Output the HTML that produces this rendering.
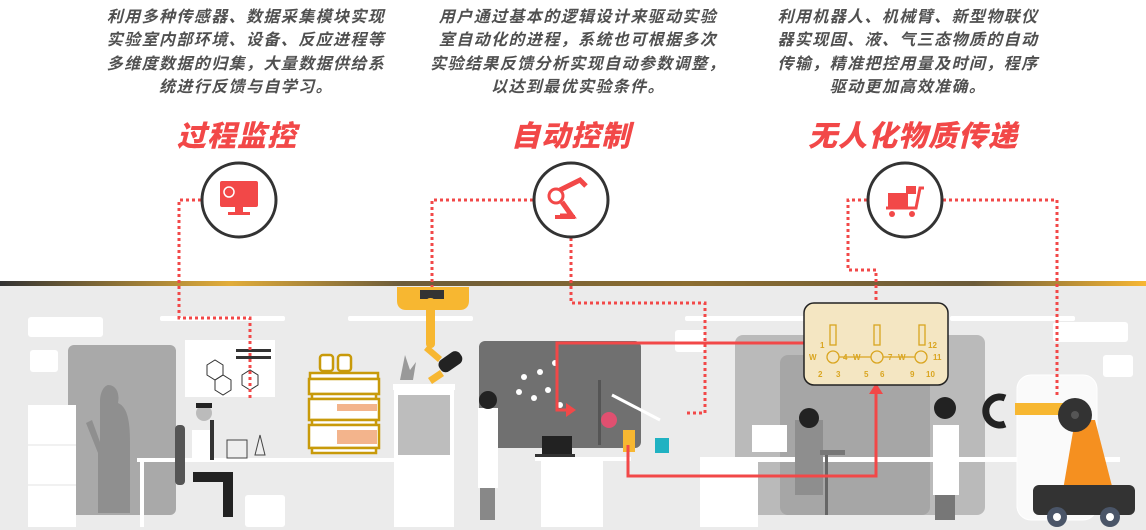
<!DOCTYPE html>
<html><head><meta charset="utf-8"><style>
html,body{margin:0;padding:0;background:#fff;}
body{width:1146px;height:530px;overflow:hidden;position:relative;font-family:"Liberation Sans","Noto Sans CJK SC",sans-serif;}
.t{position:absolute;text-align:center;color:#505050;font-weight:bold;font-style:italic;font-size:16px;line-height:23.3px;letter-spacing:1.4px;white-space:nowrap;}
.h{position:absolute;text-align:center;color:#f24848;font-weight:900;font-style:italic;font-size:29px;letter-spacing:1px;white-space:nowrap;}
svg{position:absolute;left:0;top:0;}
</style></head><body>
<svg width="1146" height="530" viewBox="0 0 1146 530">
<defs>
<linearGradient id="g" x1="0" x2="1">
<stop offset="0" stop-color="#333"/><stop offset="0.2" stop-color="#e2ad3a"/><stop offset="0.35" stop-color="#6b5b3a"/><stop offset="0.6" stop-color="#8c6d30"/><stop offset="0.85" stop-color="#6b5b3a"/><stop offset="1" stop-color="#f7b733"/>
</linearGradient>
</defs>
<rect x="0" y="285" width="1146" height="245" fill="#ebebeb"/>
<rect x="0" y="281" width="1146" height="5" fill="url(#g)"/>
<rect x="160" y="316" width="125" height="5" rx="2" fill="#fff"/>
<rect x="348" y="316" width="125" height="5" rx="2" fill="#fff"/>
<rect x="685" y="316" width="120" height="5" rx="2" fill="#fff"/>
<rect x="950" y="316" width="125" height="5" rx="2" fill="#fff"/>
<rect x="28" y="317" width="75" height="20" rx="3" fill="#fff"/>
<rect x="1053" y="322" width="75" height="20" rx="3" fill="#fff"/>
<rect x="30" y="350" width="28" height="22" rx="3" fill="#fff"/>
<rect x="675" y="330" width="30" height="22" rx="3" fill="#fff"/>
<rect x="1103" y="355" width="30" height="22" rx="3" fill="#fff"/>
<rect x="68" y="345" width="108" height="170" rx="6" fill="#a9a9a9"/>
<path d="M108 385c8 0 12 8 10 18 10 4 12 20 12 40v70h-32v-60l-12-30 6-3 8 22v-40c0-10 4-16 8-17z" fill="#8f8f8f"/>
<rect x="28" y="405" width="48" height="122" fill="#fff"/>
<line x1="28" y1="445" x2="76" y2="445" stroke="#e3e3e3"/><line x1="28" y1="485" x2="76" y2="485" stroke="#e3e3e3"/>
<rect x="185" y="340" width="90" height="57" fill="#fff"/>
<g stroke="#333" fill="none" stroke-width="1"><polygon points="207,365 215,360 223,365 223,375 215,380 207,375"/><polygon points="215,380 223,375 231,380 231,390 223,395 215,390"/><polygon points="242,375 250,370 258,375 258,385 250,390 242,385"/></g>
<rect x="236" y="349" width="35" height="3" fill="#333"/><rect x="236" y="356" width="35" height="3" fill="#333"/>
<rect x="137" y="458" width="300" height="4" fill="#fff"/>
<rect x="140" y="462" width="4" height="65" fill="#fff"/>
<rect x="245" y="495" width="40" height="32" rx="3" fill="#fff"/>
<rect x="175" y="425" width="10" height="60" rx="4" fill="#555"/>
<path d="M192 430h22v30h-22z" fill="#fff"/>
<circle cx="204" cy="413" r="8" fill="#bbb"/><path d="M196 408h16v-5h-16z" fill="#222"/>
<path d="M193 472h40v45h-10v-35h-30z" fill="#222"/>
<rect x="210" y="420" width="4" height="40" fill="#333"/>
<g fill="#eee" stroke="#444"><rect x="227" y="440" width="20" height="18"/><polygon points="265,455 255,455 260,435"/></g>
<g stroke="#c89a0a" stroke-width="2.5" fill="#fff">
<rect x="320" y="355" width="13" height="16" rx="3"/><rect x="338" y="355" width="13" height="16" rx="3"/>
<rect x="310" y="373" width="68" height="6"/><rect x="309" y="379" width="70" height="15"/>
<rect x="312" y="394" width="64" height="5"/><rect x="309" y="399" width="70" height="21"/>
<rect x="312" y="420" width="64" height="5"/><rect x="309" y="425" width="70" height="23"/>
<rect x="312" y="448" width="64" height="5"/></g>
<rect x="337" y="404" width="40" height="7" fill="#f3b48c"/>
<rect x="337" y="430" width="40" height="14" fill="#f3b48c"/>
<path d="M400 380l5-25 5 15 6-8-3 18z" fill="#999"/>
<rect x="393" y="384" width="62" height="6" fill="#fff"/>
<rect x="394" y="390" width="60" height="137" fill="#fff"/>
<rect x="398" y="395" width="52" height="60" fill="#bdbdbd"/>
<path d="M397 287h72v14c0 6-4 9-9 9h-54c-5 0-9-3-9-9z" fill="#f7b731"/>
<rect x="420" y="290" width="24" height="9" fill="#333"/>
<rect x="426" y="298" width="9" height="50" rx="4" fill="#f7b731"/>
<path d="M428 345l14 12-4 5-14-12z" fill="#f7b731"/>
<rect x="438" y="355" width="25" height="14" rx="6" fill="#222" transform="rotate(-35 450 362)"/>
<path d="M428 378l12-8 4 6-12 8z" fill="#f7b731"/>
<rect x="479" y="341" width="162" height="107" rx="6" fill="#707070"/>
<g fill="#fff"><circle cx="524" cy="377" r="3"/><circle cx="540" cy="372" r="3"/><circle cx="548" cy="390" r="3"/><circle cx="534" cy="398" r="3"/><circle cx="519" cy="392" r="3"/><circle cx="555" cy="363" r="3"/><circle cx="560" cy="405" r="3"/></g>
<path d="M478 408h20v80h-20z" fill="#fff"/>
<circle cx="488" cy="400" r="9" fill="#222"/>
<path d="M480 488h15v32h-15z" fill="#888"/>
<rect x="542" y="436" width="30" height="18" fill="#222"/><rect x="535" y="454" width="40" height="3" fill="#333"/>
<rect x="535" y="457" width="96" height="4" fill="#fff"/>
<rect x="541" y="461" width="62" height="66" fill="#fff"/>
<rect x="598" y="380" width="3" height="65" fill="#555"/>
<circle cx="609" cy="420" r="8" fill="#e05070"/>
<rect x="623" y="430" width="12" height="22" fill="#f7b731"/>
<rect x="655" y="438" width="14" height="15" fill="#20b2c2"/>
<line x1="612" y1="395" x2="660" y2="420" stroke="#fff" stroke-width="3"/>
<rect x="735" y="335" width="250" height="180" rx="8" fill="#bababa"/>
<rect x="780" y="355" width="150" height="160" rx="8" fill="#a6a6a6"/>
<rect x="700" y="457" width="420" height="5" fill="#fff"/>
<rect x="700" y="462" width="58" height="65" fill="#fff"/>
<rect x="752" y="425" width="35" height="27" fill="#fff"/>
<path d="M795 420h28v75h-28z" fill="#8e8e8e"/>
<circle cx="809" cy="418" r="10" fill="#222"/>
<rect x="820" y="450" width="25" height="5" fill="#777"/>
<rect x="825" y="455" width="3" height="60" fill="#666"/>
<path d="M933 425h26v70h-26z" fill="#fff"/>
<circle cx="945" cy="408" r="11" fill="#222"/>
<path d="M935 495h20v25h-20z" fill="#777"/>
<rect x="1017" y="375" width="80" height="145" rx="14" fill="#fafafa" stroke="#fff"/>
<path d="M1015 403h60v12h-60z" fill="#f7b731"/>
<path d="M1075 420l20 0 18 70h-50z" fill="#f59020"/>
<circle cx="1075" cy="415" r="17" fill="#333"/><circle cx="1075" cy="415" r="4" fill="#555"/>
<path d="M1005 398a14 14 0 1 0 0 26" fill="none" stroke="#222" stroke-width="7"/>
<rect x="1033" y="485" width="102" height="30" rx="6" fill="#333"/>
<circle cx="1057" cy="517" r="10" fill="#4a5568"/><circle cx="1057" cy="517" r="4" fill="#fff"/>
<circle cx="1110" cy="517" r="10" fill="#4a5568"/><circle cx="1110" cy="517" r="4" fill="#fff"/>
<g fill="none" stroke="#f24848" stroke-width="3" stroke-dasharray="3,3">
<polyline points="201,200 179,200 179,318 250,318 250,398"/>
<polyline points="533,200 432,200 432,287"/>
<polyline points="571,238 571,303 705,303 705,413 684,413"/>
<polyline points="867,200 848,200 848,270 876,270 876,303"/>
<polyline points="943,200 1057,200 1057,397"/>
</g>
<g fill="none" stroke="#f24848" stroke-width="3">
<polyline points="804,343 557,343 557,410 572,410"/>
<polyline points="628,445 628,476 876,476 876,388"/>
</g>
<polygon points="576,410 566,403 566,417" fill="#f24848"/>
<polygon points="876,383 869,394 883,394" fill="#f24848"/>
<rect x="804" y="303" width="144" height="82" rx="10" fill="#f4e6c2" stroke="#222" stroke-width="1.5"/>
<g stroke="#d9a520" stroke-width="1.3" fill="none">
<rect x="830" y="325" width="6" height="20"/><rect x="874" y="325" width="6" height="20"/><rect x="919" y="325" width="6" height="20"/>
<circle cx="833" cy="357" r="6"/><circle cx="877" cy="357" r="6"/><circle cx="921" cy="357" r="6"/>
<line x1="839" y1="357" x2="871" y2="357"/><line x1="883" y1="357" x2="915" y2="357"/>
</g>
<g font-size="8" fill="#d9a520" font-weight="bold" font-family="Liberation Sans">
<text x="809" y="360">W</text><text x="843" y="360">4</text><text x="853" y="360">W</text><text x="888" y="360">7</text><text x="898" y="360">W</text><text x="933" y="360">11</text>
<text x="820" y="348">1</text><text x="928" y="348">12</text>
<text x="818" y="377">2</text><text x="836" y="377">3</text><text x="864" y="377">5</text><text x="880" y="377">6</text><text x="910" y="377">9</text><text x="926" y="377">10</text>
</g>
<g fill="#fff" stroke="#333" stroke-width="3">
<circle cx="239" cy="200" r="37"/><circle cx="571" cy="200" r="37"/><circle cx="905" cy="200" r="37"/>
</g>
<rect x="220" y="181" width="38" height="26" rx="2" fill="#f24848"/>
<rect x="235" y="207" width="8" height="5" fill="#f24848"/><rect x="228" y="212" width="22" height="3" fill="#f24848"/>
<circle cx="229" cy="192" r="5" fill="none" stroke="#fff" stroke-width="1.5"/>
<circle cx="556" cy="196" r="7" fill="none" stroke="#f24848" stroke-width="3"/>
<path d="M560 190l20-10 6 6M562 202l10 14h-12" fill="none" stroke="#f24848" stroke-width="5"/>
<rect x="555" y="215" width="20" height="4" fill="#f24848"/>
<rect x="888" y="193" width="20" height="14" fill="#f24848"/><rect x="906" y="186" width="10" height="8" fill="#f24848"/>
<path d="M886 208h30l4-20h4" fill="none" stroke="#f24848" stroke-width="3"/>
<circle cx="892" cy="214" r="3" fill="#f24848"/><circle cx="912" cy="214" r="3" fill="#f24848"/>
</svg>
<div class="t" style="left:46px;top:6px;width:400px;">利用多种传感器、数据采集模块实现<br>实验室内部环境、设备、反应进程等<br>多维度数据的归集，大量数据供给系<br>统进行反馈与自学习。</div>
<div class="t" style="left:378px;top:6px;width:400px;">用户通过基本的逻辑设计来驱动实验<br>室自动化的进程，系统也可根据多次<br>实验结果反馈分析实现自动参数调整，<br>以达到最优实验条件。</div>
<div class="t" style="left:708px;top:6px;width:400px;">利用机器人、机械臂、新型物联仪<br>器实现固、液、气三态物质的自动<br>传输，精准把控用量及时间，程序<br>驱动更加高效准确。</div>
<div class="h" style="left:137px;top:113px;width:200px;">过程监控</div>
<div class="h" style="left:471px;top:113px;width:200px;">自动控制</div>
<div class="h" style="left:763px;top:113px;width:300px;">无人化物质传递</div>
</body></html>
